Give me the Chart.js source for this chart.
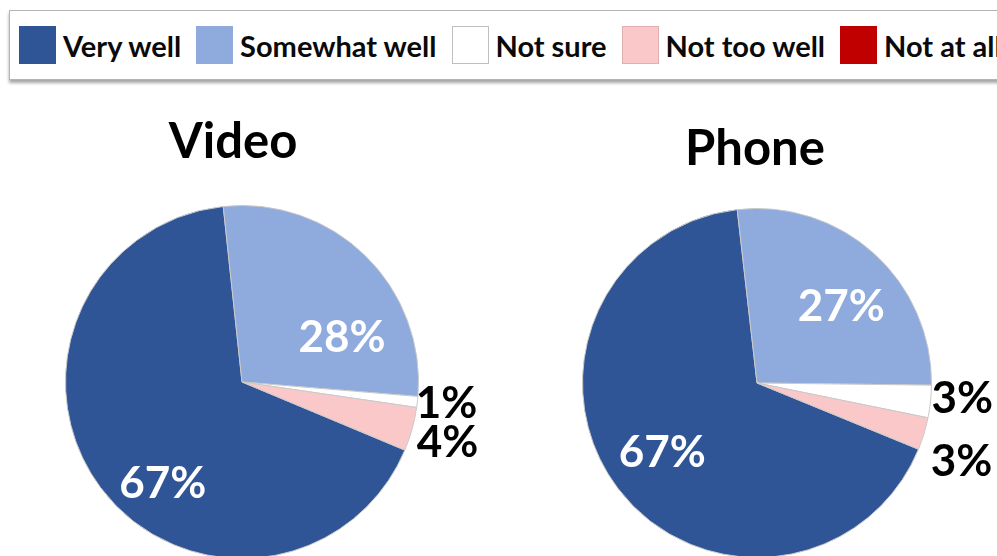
<!DOCTYPE html>
<html>
<head>
<meta charset="utf-8">
<script src="https://cdn.jsdelivr.net/npm/chart.js@4"></script>
<style>
  html, body { margin: 0; padding: 0; background: #fff; overflow: hidden; }
  body { width: 997px; height: 556px; position: relative; font-family: Lato, "Open Sans", sans-serif; }
  #legend {
    position: absolute; left: 9px; top: 10px; width: 1010px; height: 68px;
    border: 1px solid #b4b4b4; box-shadow: 0 3px 3px rgba(0,0,0,0.35);
    background: #fff; display: flex; align-items: center; white-space: nowrap;
  }
  .item { display: flex; align-items: center; margin-left: 9px; margin-right: 6px; }
  .box { width: 37px; height: 38px; box-sizing: border-box; margin-right: 7px; }
  .lbl { font-weight: bold; font-size: 29px; color: #0a0a0a; }
  canvas { position: absolute; }
</style>
</head>
<body>
<div id="legend"></div>
<canvas id="video"></canvas>
<canvas id="phone"></canvas>
<script>
var categories = ['Very well', 'Somewhat well', 'Not sure', 'Not too well', 'Not at all'];
var videoValues = [67, 28, 1, 4, 0];
var phoneValues = [67, 27, 3, 3, 0];
var chartTitles = ['Video', 'Phone'];

var sliceColors = ['#2f5597', '#8faadc', '#ffffff', '#fac8c8', '#c00000'];
var boxBorders = ['#2f5597', '#8faadc', '#bfbfbf', '#e0b0b0', '#c00000'];

// legend across both pies
var legend = document.getElementById('legend');
categories.forEach(function (c, i) {
    var it = document.createElement('div');
    it.className = 'item';
    it.innerHTML = '<div class="box" style="background:' + sliceColors[i] +
        ';border:1px solid ' + boxBorders[i] + '"></div><span class="lbl">' + c + '</span>';
    legend.appendChild(it);
});

// label spots: [angle from top in degrees, distance as share of radius]
var videoLabelPos = [[218, 0.73], [66, 0.62], [96, 1.165], [106.5, 1.215]];
var phoneLabelPos = [[233.5, 0.675], [48, 0.65], [94.4, 1.18], [111, 1.255]];
var labelColors = ['#ffffff', '#ffffff', '#000000', '#000000'];

var pieLabels = {
    id: 'pieLabels',
    afterDraw: function (chart) {
        var opts = chart.options.plugins.pieLabels;
        var ctx = chart.ctx;
        var meta = chart.getDatasetMeta(0);
        var values = chart.data.datasets[0].data;
        ctx.save();
        // title
        ctx.font = 'bold 49px Lato';
        ctx.fillStyle = '#000';
        ctx.textAlign = 'center';
        ctx.textBaseline = 'alphabetic';
        ctx.fillText(opts.title, opts.titleX, opts.titleY);
        // percentages
        ctx.font = 'bold 44px Lato';
        ctx.textBaseline = 'middle';
        meta.data.forEach(function (arc, i) {
            if (!values[i] || !opts.pos[i]) return;
            var p = arc.getProps(['x', 'y', 'outerRadius'], true);
            var a = opts.pos[i][0] * Math.PI / 180;
            var d = opts.pos[i][1] * p.outerRadius;
            ctx.fillStyle = labelColors[i];
            ctx.fillText(values[i] + '%', p.x + d * Math.sin(a), p.y - d * Math.cos(a));
        });
        ctx.restore();
    }
};

function makePie(id, values, title, left, pad, startAngle, labelPos, titleX, titleY) {
    var cv = document.getElementById(id);
    cv.width = 498;
    cv.height = 480;
    cv.style.left = left + 'px';
    cv.style.top = '90px';
    // the "Somewhat well" slice starts just left of 12 o'clock
    var total = values.reduce(function (a, b) { return a + b; }, 0);
    var rotation = startAngle - values[0] / total * 360;
    return new Chart(cv.getContext('2d'), {
        type: 'pie',
        data: {
            labels: categories,
            datasets: [{
                data: values,
                backgroundColor: sliceColors,
                borderColor: '#c9c9c9',
                borderWidth: 1
            }]
        },
        options: {
            responsive: false,
            animation: false,
            rotation: rotation,
            layout: { padding: pad },
            plugins: {
                legend: { display: false },
                tooltip: { enabled: false },
                pieLabels: { title: title, titleX: titleX, titleY: titleY, pos: labelPos }
            }
        },
        plugins: [pieLabels]
    });
}

makePie('video', videoValues, chartTitles[0], 0,
    { left: 65, right: 79, top: 115, bottom: 11 }, -6.1, videoLabelPos, 233, 68);
makePie('phone', phoneValues, chartTitles[1], 499,
    { left: 83, right: 65, top: 118, bottom: 12 }, -6.5, phoneLabelPos, 256, 75);
</script>
</body>
</html>
